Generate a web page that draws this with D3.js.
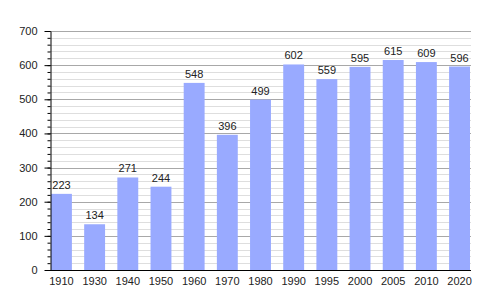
<!DOCTYPE html>
<html>
<head>
<meta charset="utf-8">
<script src="https://cdn.jsdelivr.net/npm/d3@7/dist/d3.min.js"></script>
<style>
  body { margin: 0; background: #fff; }
  text { font-family: "Liberation Sans", Arial, sans-serif; fill: #222; }
</style>
</head>
<body>
<div id="chart"></div>
<script>
const years = ['1910', '1930', '1940', '1950', '1960', '1970', '1980', '1990', '1995', '2000', '2005', '2010', '2020'];
const population = [223, 134, 271, 244, 548, 396, 499, 602, 559, 595, 615, 609, 596];
const yTicks = [0, 100, 200, 300, 400, 500, 600, 700];
const yMinorTicks = d3.range(0, 701, 20);

const width = 500, height = 300;
const plotLeft = 50, plotRight = 471, plotTop = 31, plotBottom = 270;

const svg = d3.select('#chart').append('svg')
  .attr('width', width)
  .attr('height', height);

const x = d3.scaleBand()
  .domain(years)
  .range([plotLeft + 1, plotRight - 1])
  .paddingInner(0.37)
  .paddingOuter(0);

const y = d3.scaleLinear().domain([0, 700]).range([plotBottom, plotTop]);

// grille
svg.append('g')
  .selectAll('line')
  .data(yMinorTicks.filter(v => v % 100 !== 0))
  .join('line')
  .attr('x1', plotLeft).attr('x2', plotRight)
  .attr('y1', d => Math.round(y(d)) + 0.5)
  .attr('y2', d => Math.round(y(d)) + 0.5)
  .attr('stroke', '#dedede');

svg.append('g')
  .selectAll('line')
  .data(yTicks.filter(v => v > 0))
  .join('line')
  .attr('x1', plotLeft).attr('x2', plotRight)
  .attr('y1', d => Math.round(y(d)) + 0.5)
  .attr('y2', d => Math.round(y(d)) + 0.5)
  .attr('stroke', '#a8a8a8');

// barres
svg.append('g')
  .selectAll('rect')
  .data(population)
  .join('rect')
  .attr('x', (d, i) => x(years[i]))
  .attr('y', d => y(d))
  .attr('width', x.bandwidth())
  .attr('height', d => y(0) - y(d))
  .attr('fill', '#99aaff');

// valeurs
svg.append('g')
  .selectAll('text')
  .data(population)
  .join('text')
  .attr('x', (d, i) => x(years[i]) + x.bandwidth() / 2)
  .attr('y', d => y(d) - 5)
  .attr('text-anchor', 'middle')
  .attr('font-size', 11)
  .text(d => d);

// axes
const yAxisMinor = svg.append('g')
  .attr('transform', `translate(${plotLeft + 0.5},0)`)
  .call(d3.axisLeft(y).tickValues(yMinorTicks).tickSize(3).tickFormat(''));
yAxisMinor.select('.domain').remove();
yAxisMinor.selectAll('line').attr('stroke', '#000');

const yAxis = svg.append('g')
  .attr('transform', `translate(${plotLeft + 0.5},0)`)
  .call(d3.axisLeft(y).tickValues(yTicks).tickSize(6).tickPadding(7).tickSizeOuter(0));
yAxis.select('.domain').attr('stroke', '#000');
yAxis.selectAll('text').attr('font-size', 11).attr('font-family', '"Liberation Sans", Arial, sans-serif').attr('fill', '#222');

const xAxis = svg.append('g')
  .attr('transform', `translate(0,${plotBottom + 0.5})`)
  .call(d3.axisBottom(x).tickSize(0).tickPadding(7));
xAxis.select('.domain').attr('d', `M${plotLeft},0H${plotRight}`).attr('stroke', '#000');
xAxis.selectAll('text').attr('font-size', 11).attr('font-family', '"Liberation Sans", Arial, sans-serif').attr('fill', '#222');
</script>
</body>
</html>
